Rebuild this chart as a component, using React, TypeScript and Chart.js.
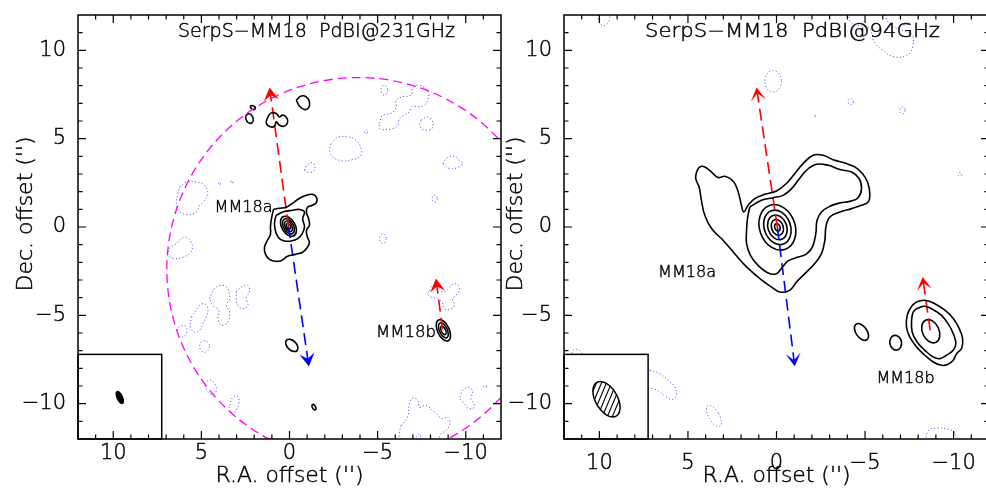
import React, { useEffect, useRef } from "react";
import { Chart, registerables } from "chart.js";

Chart.register(...registerables);

type P = [number, number];
// ellipse contour: centre x, centre y, semi-major, semi-minor, position angle (deg, east of north)
type E = [number, number, number, number, number];

// ---------------- axes ----------------
const AXIS_MIN = -12;
const AXIS_MAX = 12;
const MAJOR_TICKS = [-10, -5, 0, 5, 10];
const MAJOR_LABELS = ["−10", "−5", "0", "5", "10"];
const MINOR_TICKS = [-11, -9, -8, -7, -6, -4, -3, -2, -1, 1, 2, 3, 4, 6, 7, 8, 9, 11];
const X_TITLE = "R.A. offset ('')";
const Y_TITLE = "Dec. offset ('')";

// ---------------- panel 1 : 231 GHz ----------------
const TITLE_231 = "SerpS−MM18  PdBI@231GHz";
const BEAM_231: E = [9.63, -9.65, 0.41, 0.19, 25];
const PRIMARY_BEAM_231: E = [-3.9, -2.4, 10.86, 10.86, 0];
const INSET_231 = [12, 7.25, -12, -7.21];

const POS_231_A_OUTER: P[] = [[0.91, 1.0], [0.57, 1.06], [0.17, 1.12], [-0.17, 1.34], [-0.57, 1.63], [-0.96, 1.8], [-1.3, 1.85], [-1.53, 1.68], [-1.53, 1.4], [-1.3, 1.23], [-1.02, 1.12], [-0.96, 0.83], [-1.08, 0.49], [-1.13, 0.1], [-0.96, -0.19], [-1.02, -0.58], [-1.13, -0.87], [-1.02, -1.15], [-0.74, -1.43], [-0.34, -1.55], [0.11, -1.66], [0.45, -1.89], [0.79, -1.94], [1.13, -1.83], [1.36, -1.55], [1.42, -1.15], [1.25, -0.75], [1.08, -0.41], [1.08, 0.04], [1.02, 0.49]];
const POS_231_A_SECOND: P[] = [[0.75, 0.66], [0.38, 0.85], [-0.19, 0.95], [-0.57, 0.99], [-0.85, 0.85], [-0.75, 0.48], [-0.85, 0.0], [-0.72, -0.37], [-0.47, -0.66], [-0.1, -0.79], [0.28, -0.79], [0.57, -0.66], [0.75, -0.37], [0.85, 0.1], [0.81, 0.48]];
const POS_231_NORTH_S: P[] = [[1.23, 6.23], [1.04, 6.46], [0.75, 6.42], [0.57, 6.23], [0.41, 6.33], [0.19, 6.23], [0.1, 5.95], [0.28, 5.71], [0.57, 5.76], [0.75, 5.95], [0.85, 5.71], [1.09, 5.67], [1.32, 5.89]];
const POS_231_NORTH_DROP: P[] = [[-0.38, 7.18], [-0.66, 7.41], [-0.95, 7.37], [-1.13, 7.08], [-1.09, 6.76], [-0.85, 6.65], [-0.57, 6.84]];
const POS_231_ELL: E[] = [
  [0.06, 0.04, 0.62, 0.38, 30], [0.06, 0.04, 0.47, 0.28, 30], [0.06, 0.04, 0.32, 0.19, 30], [0.06, 0.04, 0.17, 0.1, 30],
  [-8.73, -5.85, 0.65, 0.33, 25], [-8.73, -5.85, 0.46, 0.22, 25], [-8.73, -5.85, 0.26, 0.12, 25],
  [2.27, 6.14, 0.28, 0.2, 20], [2.08, 6.76, 0.15, 0.1, 60], [-0.13, -6.7, 0.42, 0.26, 45], [-1.39, -10.2, 0.17, 0.09, 30],
];

const NEG_231_NE_CHAIN: P[] = [[-5.1, 5.86], [-5.29, 6.33], [-5.76, 6.42], [-6.05, 6.8], [-6.05, 7.18], [-6.42, 7.37], [-6.9, 7.46], [-6.99, 7.84], [-7.27, 8.03], [-7.65, 7.9], [-7.89, 7.56], [-7.84, 7.18], [-7.65, 6.9], [-7.27, 6.8], [-6.99, 6.84], [-6.8, 6.52], [-6.52, 6.33], [-6.23, 6.14], [-6.14, 5.76], [-5.85, 5.57], [-5.48, 5.52], [-5.1, 5.57]];
const NEG_231_NE_BLOB: P[] = [[-7.46, 6.05], [-7.84, 6.23], [-8.12, 5.95], [-8.08, 5.57], [-7.74, 5.48], [-7.4, 5.67]];
const NEG_231_BIG: P[] = [[-2.36, 4.72], [-2.74, 5.07], [-3.3, 5.1], [-3.78, 4.91], [-4.06, 4.44], [-4.02, 4.01], [-3.59, 3.82], [-3.02, 3.74], [-2.45, 3.97], [-2.27, 4.35]];
const NEG_231_SMALL_N: P[] = [[-0.85, 3.21], [-1.04, 3.55], [-1.32, 3.63], [-1.45, 3.4], [-1.32, 3.12], [-0.94, 3.12]];
const NEG_231_E_BLOB: P[] = [[-8.69, 3.59], [-8.97, 3.93], [-9.35, 4.01], [-9.63, 3.78], [-9.82, 3.59], [-9.54, 3.37], [-9.07, 3.31]];
const NEG_231_W_BLOB: P[] = [[6.23, 2.27], [5.85, 2.55], [5.29, 2.55], [4.82, 2.36], [4.63, 1.89], [4.82, 1.51], [5.1, 1.23], [5.29, 0.85], [5.76, 0.72], [6.23, 0.85], [6.42, 1.33], [6.33, 1.89]];
const NEG_231_W_BLOB2: P[] = [[6.91, -1.6], [6.8, -1.21], [6.42, -0.94], [6.14, -0.66], [5.89, -0.57], [5.61, -0.81], [5.5, -1.21], [5.67, -1.49], [6.06, -1.72], [6.52, -1.79]];
const NEG_231_SW_1: P[] = [[6.39, -5.85], [6.23, -5.63], [5.95, -5.57], [5.82, -5.81], [5.93, -6.14], [6.23, -6.23]];
const NEG_231_SW_2: P[] = [[5.57, -5.1], [5.29, -4.72], [5.1, -4.44], [4.82, -4.34], [4.63, -4.62], [4.72, -5.1], [4.91, -5.47], [5.1, -5.85], [5.38, -5.95], [5.63, -5.67]];
const NEG_231_SW_3: P[] = [[4.53, -4.06], [4.25, -3.49], [3.87, -3.3], [3.5, -3.49], [3.4, -4.06], [3.59, -4.44], [3.4, -4.82], [3.5, -5.38], [3.87, -5.57], [4.06, -5.19], [4.01, -4.72], [4.35, -4.44]];
const NEG_231_SW_4: P[] = [[3.02, -3.68], [2.74, -3.4], [2.36, -3.3], [2.27, -3.68], [2.45, -3.97], [2.36, -4.44], [2.65, -4.62], [2.93, -4.44], [3.02, -4.06]];
const NEG_231_SW_5: P[] = [[4.82, -8.87], [4.53, -8.65], [4.25, -8.87], [4.15, -9.25], [4.34, -9.48], [4.63, -9.35]];
const NEG_231_SW_6: P[] = [[3.4, -10.1], [3.21, -9.63], [2.93, -9.59], [2.87, -10.01], [2.99, -10.29], [3.21, -10.54], [3.44, -10.39]];
const NEG_231_SE_BIG: P[] = [[-6.33, -11.24], [-6.7, -10.76], [-6.8, -10.01], [-6.99, -9.67], [-7.27, -9.82], [-7.37, -10.2], [-7.74, -10.1], [-8.22, -10.48], [-8.69, -10.86], [-8.97, -10.76], [-9.1, -11.14], [-8.88, -11.52], [-8.59, -11.71], [-8.4, -12.05], [-7.55, -12.08], [-7.37, -11.71], [-7.08, -11.99], [-6.42, -12.08], [-6.23, -11.71]];
const NEG_231_SE_2: P[] = [[-9.73, -9.44], [-9.92, -9.16], [-10.2, -9.07], [-10.39, -9.35], [-10.29, -9.72], [-10.48, -10.01], [-10.39, -10.29], [-10.1, -10.2], [-9.86, -9.92], [-9.67, -9.72]];
const NEG_231_B_RED: P[] = [[-7.93, -3.59], [-8.12, -3.3], [-8.4, -3.4], [-8.69, -3.68], [-8.97, -3.55], [-9.25, -3.25], [-9.54, -3.25], [-9.63, -3.59], [-9.44, -3.87], [-9.25, -4.06], [-9.35, -4.44], [-9.07, -4.68], [-8.78, -4.62], [-8.65, -4.25], [-8.4, -4.06], [-8.03, -3.97], [-7.84, -3.77]];
const NEG_231_ELL: E[] = [
  [-5.38, 7.75, 0.28, 0.19, 0], [-4.35, 5.38, 0.1, 0.08, 0], [-8.24, 1.61, 0.2, 0.15, 0], [-5.29, -0.66, 0.28, 0.19, 0],
  [3.97, 2.46, 0.08, 0.06, 0], [3.27, 2.55, 0.08, 0.06, 0], [4.82, -6.76, 0.33, 0.28, 0], [-11.1, -9.03, 0.08, 0.08, 0],
];

const RED_231_A: P[] = [[0.06, 0.04], [1.13, 7.9]];
const BLUE_231_A: P[] = [[0.06, 0.04], [-1.1, -7.9]];
const RED_231_B: P[] = [[-8.68, -5.8], [-8.31, -2.92]];

// ---------------- panel 2 : 94 GHz ----------------
const TITLE_94 = "SerpS−MM18  PdBI@94GHz";
const BEAM_94: E = [9.6, -9.75, 1.1, 0.62, 30];
const INSET_94 = [12, 7.25, -12, -7.21];

const POS_94_A_OUTER: P[] = [[4.52, 3.11], [4.33, 3.4], [4.05, 3.4], [3.67, 3.11], [3.3, 2.8], [2.92, 2.87], [2.54, 2.68], [2.3, 2.36], [2.11, 1.79], [1.98, 1.23], [1.85, 0.85], [1.6, 1.23], [1.23, 1.61], [0.66, 1.85], [0.0, 2.04], [-0.56, 2.46], [-1.03, 3.02], [-1.5, 3.59], [-2.07, 4.06], [-2.63, 4.06], [-3.2, 3.81], [-3.86, 3.62], [-4.42, 3.4], [-4.86, 3.02], [-5.14, 2.55], [-5.27, 1.89], [-5.18, 1.42], [-4.8, 1.23], [-4.24, 1.04], [-3.58, 0.85], [-3.01, 0.57], [-2.79, 0.0], [-2.73, -0.75], [-2.54, -1.51], [-2.16, -2.07], [-1.6, -2.64], [-1.13, -3.11], [-0.75, -3.58], [-0.19, -3.68], [0.28, -3.4], [0.94, -2.92], [1.69, -2.26], [2.36, -1.51], [3.02, -0.75], [3.67, -0.09], [4.05, 0.66], [4.24, 1.51], [4.37, 2.26], [4.56, 2.74]];
const POS_94_A_SECOND: P[] = [[1.51, 1.13], [0.85, 1.51], [0.19, 1.66], [-0.37, 1.79], [-0.85, 2.17], [-1.22, 2.64], [-1.69, 3.21], [-2.26, 3.55], [-2.92, 3.49], [-3.58, 3.25], [-4.24, 3.11], [-4.67, 2.74], [-4.8, 2.17], [-4.61, 1.66], [-4.14, 1.45], [-3.58, 1.36], [-3.01, 1.17], [-2.54, 0.85], [-2.29, 0.38], [-2.22, -0.37], [-2.03, -1.13], [-1.66, -1.55], [-1.13, -1.73], [-0.66, -1.92], [-0.34, -2.26], [0.0, -2.64], [0.47, -2.6], [1.04, -2.17], [1.47, -1.6], [1.69, -0.94], [1.69, -0.19], [1.64, 0.48]];
const POS_94_B_OUTER: P[] = [[-7.91, -4.24], [-8.38, -4.15], [-8.94, -4.34], [-9.51, -4.71], [-9.98, -5.18], [-10.32, -5.75], [-10.51, -6.32], [-10.45, -6.88], [-10.17, -7.17], [-9.98, -7.54], [-9.69, -7.77], [-9.32, -7.83], [-8.85, -7.64], [-8.38, -7.26], [-7.91, -6.79], [-7.53, -6.23], [-7.34, -5.66], [-7.38, -5.0], [-7.63, -4.49]];
const POS_94_B_SECOND: P[] = [[-7.91, -4.62], [-8.38, -4.49], [-8.85, -4.68], [-9.32, -5.0], [-9.69, -5.47], [-9.98, -6.03], [-10.13, -6.6], [-9.98, -6.98], [-9.6, -7.26], [-9.23, -7.45], [-8.85, -7.36], [-8.38, -6.98], [-7.94, -6.51], [-7.66, -5.94], [-7.63, -5.28], [-7.72, -4.81]];
const POS_94_ELL: E[] = [
  [-0.05, -0.02, 1.32, 1.0, 20], [-0.05, -0.02, 1.0, 0.74, 20], [-0.05, -0.02, 0.72, 0.53, 20], [-0.05, -0.02, 0.46, 0.33, 20], [-0.05, -0.02, 0.22, 0.15, 20],
  [-8.71, -5.9, 0.69, 0.47, 25], [-6.73, -6.55, 0.42, 0.33, 10], [-4.8, -5.94, 0.54, 0.31, 35],
];

const NEG_94_NE: P[] = [[-4.05, 12.1], [-4.2, 11.6], [-4.7, 11.4], [-5.2, 11.3], [-5.4, 10.9], [-5.5, 10.5], [-6.0, 10.0], [-6.7, 9.62], [-7.4, 9.75], [-7.7, 10.2], [-7.65, 10.9], [-7.2, 11.1], [-6.7, 11.3], [-6.3, 11.6], [-6.0, 12.1]];
const NEG_94_SW: P[] = [[7.15, -8.11], [6.59, -8.3], [6.12, -8.68], [5.75, -9.05], [5.65, -9.47], [5.88, -9.77], [6.21, -9.62], [6.59, -9.34], [6.97, -9.15], [7.6, -9.1], [8.0, -8.6], [7.6, -8.1]];
const NEG_94_W_EDGE: P[] = [[11.6, -7.35], [11.45, -6.95], [11.1, -7.0], [11.0, -7.4]];
const NEG_94_SE: P[] = [[-8.4, -12.1], [-8.6, -11.5], [-9.1, -11.38], [-9.6, -11.42], [-10.0, -11.6], [-10.2, -12.1]];
const NEG_94_ELL: E[] = [
  [0.19, 8.25, 0.61, 0.47, 0], [-4.19, 7.1, 0.18, 0.15, 0], [-7.11, 6.6, 0.2, 0.15, 0], [-2.16, 6.27, 0.05, 0.05, 0],
  [-10.36, 2.98, 0.1, 0.1, 0], [9.75, 11.9, 0.5, 0.33, 0], [3.53, -10.7, 0.68, 0.3, 30],
];

const RED_94_A: P[] = [[-0.05, -0.02], [1.13, 7.9]];
const BLUE_94_A: P[] = [[-0.05, -0.02], [-1.03, -7.88]];
const RED_94_B: P[] = [[-8.68, -5.85], [-8.25, -2.83]];

// ---------------- styling ----------------
const FAMILY = "'DejaVu Sans', 'Liberation Sans', sans-serif";
const WEIGHT = "200";
const BLACK = "#000000";
const NEG_BLUE = "#5858ff";
const RED = "#ff0000";
const BLUE = "#0000ff";
const MAGENTA = "#ff00ff";

interface Label { text: string; x: number; y: number; w: number }
interface Panel {
  title: string; titleCx: number; titleW: number;
  pos: P[][]; neg: P[][]; posEll: E[]; negEll: E[];
  arrows: { pts: P[]; color: string }[];
  beam: E; hatched: boolean; inset: number[]; pb: E | null;
  labels: Label[]; xLabelDy: number; yTitleDx: number; notch: number;
}

const PANEL_231: Panel = {
  title: TITLE_231, titleCx: 238.5, titleW: 277,
  pos: [POS_231_A_OUTER, POS_231_A_SECOND, POS_231_NORTH_S, POS_231_NORTH_DROP],
  neg: [NEG_231_NE_CHAIN, NEG_231_NE_BLOB, NEG_231_BIG, NEG_231_SMALL_N, NEG_231_E_BLOB, NEG_231_W_BLOB, NEG_231_W_BLOB2, NEG_231_SW_1, NEG_231_SW_2, NEG_231_SW_3, NEG_231_SW_4, NEG_231_SW_5, NEG_231_SW_6, NEG_231_SE_BIG, NEG_231_SE_2, NEG_231_B_RED],
  posEll: POS_231_ELL, negEll: NEG_231_ELL,
  arrows: [{ pts: RED_231_A, color: RED }, { pts: BLUE_231_A, color: BLUE }, { pts: RED_231_B, color: RED }],
  beam: BEAM_231, hatched: false, inset: INSET_231, pb: PRIMARY_BEAM_231,
  labels: [{ text: "MM18a", x: 4.25, y: 1.1, w: 58 }, { text: "MM18b", x: -4.91, y: -6.0, w: 60 }],
  xLabelDy: 15, yTitleDx: -51, notch: 5,
};

const PANEL_94: Panel = {
  title: TITLE_94, titleCx: 228.5, titleW: 295,
  pos: [POS_94_A_OUTER, POS_94_A_SECOND, POS_94_B_OUTER, POS_94_B_SECOND],
  neg: [NEG_94_NE, NEG_94_SW, NEG_94_W_EDGE, NEG_94_SE],
  posEll: POS_94_ELL, negEll: NEG_94_ELL,
  arrows: [{ pts: RED_94_A, color: RED }, { pts: BLUE_94_A, color: BLUE }, { pts: RED_94_B, color: RED }],
  beam: BEAM_94, hatched: true, inset: INSET_94, pb: null,
  labels: [{ text: "MM18a", x: 6.69, y: -2.6, w: 58 }, { text: "MM18b", x: -5.65, y: -8.58, w: 58 }],
  xLabelDy: 25, yTitleDx: -47, notch: 7,
};

// ---------------- drawing helpers ----------------
function text(ctx: CanvasRenderingContext2D, s: string, x: number, y: number, size: number, align: string, w?: number, rot?: boolean) {
  ctx.save();
  ctx.font = `${WEIGHT} ${size}px ${FAMILY}`;
  ctx.fillStyle = BLACK;
  ctx.strokeStyle = BLACK;
  ctx.lineWidth = 0.45;
  ctx.textBaseline = "middle";
  ctx.textAlign = "left";
  ctx.translate(x, y);
  if (rot) ctx.rotate(-Math.PI / 2);
  const m = ctx.measureText(s).width;
  const k = w ? w / m : 1;
  ctx.scale(k, 1);
  const off = align === "left" ? 0 : align === "right" ? -m : -m / 2;
  ctx.fillText(s, off, 0);
  ctx.strokeText(s, off, 0);
  ctx.restore();
}

function ellipsePath(chart: any, e: E) {
  const xs = chart.scales.x, ys = chart.scales.y;
  const cx = xs.getPixelForValue(e[0]);
  const cy = ys.getPixelForValue(e[1]);
  const kx = Math.abs(xs.getPixelForValue(1) - xs.getPixelForValue(0));
  const ky = Math.abs(ys.getPixelForValue(1) - ys.getPixelForValue(0));
  const ctx = chart.ctx as CanvasRenderingContext2D;
  ctx.beginPath();
  ctx.ellipse(cx, cy, Math.max(0.5, e[3] * kx), Math.max(0.5, e[2] * ky), (-e[4] * Math.PI) / 180, 0, Math.PI * 2);
  return { cx, cy, rx: e[3] * kx, ry: e[2] * ky };
}

function clipArea(chart: any) {
  const a = chart.chartArea;
  const ctx = chart.ctx as CanvasRenderingContext2D;
  ctx.beginPath();
  ctx.rect(a.left, a.top, a.right - a.left, a.bottom - a.top);
  ctx.clip();
}

const panelPlugin = {
  id: "panel",
  beforeDatasetsDraw(chart: any) {
    const p: Panel = chart.options.plugins.panel;
    const ctx = chart.ctx as CanvasRenderingContext2D;
    ctx.save();
    clipArea(chart);
    ctx.setLineDash([1.2, 2.2]);
    ctx.strokeStyle = NEG_BLUE;
    ctx.lineWidth = 1;
    p.negEll.forEach((e) => { ellipsePath(chart, e); ctx.stroke(); });
    ctx.setLineDash([]);
    ctx.strokeStyle = BLACK;
    ctx.lineWidth = 1.6;
    p.posEll.forEach((e) => { ellipsePath(chart, e); ctx.stroke(); });
    ctx.restore();
  },
  afterDatasetsDraw(chart: any) {
    const p: Panel = chart.options.plugins.panel;
    const ctx = chart.ctx as CanvasRenderingContext2D;
    const xs = chart.scales.x, ys = chart.scales.y;
    const a = chart.chartArea;

    ctx.save();
    clipArea(chart);
    // primary beam
    if (p.pb) {
      ctx.setLineDash([9, 5]);
      ctx.strokeStyle = MAGENTA;
      ctx.lineWidth = 1.3;
      ellipsePath(chart, p.pb);
      ctx.stroke();
      ctx.setLineDash([]);
    }
    // arrow heads
    p.arrows.forEach(({ pts, color }) => {
      const n = pts.length;
      const x1 = xs.getPixelForValue(pts[n - 2][0]), y1 = ys.getPixelForValue(pts[n - 2][1]);
      const x2 = xs.getPixelForValue(pts[n - 1][0]), y2 = ys.getPixelForValue(pts[n - 1][1]);
      const ang = Math.atan2(y2 - y1, x2 - x1);
      ctx.save();
      ctx.translate(x2, y2);
      ctx.rotate(ang);
      ctx.beginPath();
      ctx.moveTo(0, 0);
      ctx.lineTo(-13, 7.5);
      ctx.lineTo(-13 + p.notch, 0);
      ctx.lineTo(-13, -7.5);
      ctx.closePath();
      ctx.fillStyle = color;
      ctx.fill();
      ctx.restore();
    });
    ctx.restore();

    // inset box with beam
    const bx1 = xs.getPixelForValue(p.inset[0]), bx2 = xs.getPixelForValue(p.inset[1]);
    const by1 = ys.getPixelForValue(p.inset[2]), by2 = ys.getPixelForValue(p.inset[3]);
    ctx.save();
    ctx.fillStyle = "#ffffff";
    ctx.fillRect(Math.min(bx1, bx2), Math.min(by1, by2), Math.abs(bx2 - bx1), Math.abs(by2 - by1));
    ctx.strokeStyle = BLACK;
    ctx.lineWidth = 1.5;
    ctx.strokeRect(Math.min(bx1, bx2), Math.min(by1, by2), Math.abs(bx2 - bx1), Math.abs(by2 - by1));
    const g = ellipsePath(chart, p.beam);
    if (p.hatched) {
      ctx.save();
      ctx.clip();
      ctx.lineWidth = 1.1;
      ctx.beginPath();
      const R = Math.max(g.rx, g.ry) + 4;
      for (let sx = -2 * R; sx <= 2 * R; sx += 5) {
        ctx.moveTo(g.cx + sx - R * 0.42, g.cy + R);
        ctx.lineTo(g.cx + sx + R * 0.42, g.cy - R);
      }
      ctx.stroke();
      ctx.restore();
      ellipsePath(chart, p.beam);
      ctx.lineWidth = 1.5;
      ctx.stroke();
    } else {
      ctx.fillStyle = BLACK;
      ctx.fill();
    }
    ctx.restore();

    // frame and ticks
    ctx.save();
    ctx.strokeStyle = BLACK;
    ctx.lineWidth = 1.5;
    ctx.strokeRect(a.left, a.top, a.right - a.left, a.bottom - a.top);
    ctx.lineWidth = 1.2;
    ctx.beginPath();
    const tick = (v: number, len: number) => {
      const X = xs.getPixelForValue(v), Y = ys.getPixelForValue(v);
      ctx.moveTo(X, a.bottom); ctx.lineTo(X, a.bottom - len);
      ctx.moveTo(X, a.top); ctx.lineTo(X, a.top + len);
      ctx.moveTo(a.left, Y); ctx.lineTo(a.left + len, Y);
      ctx.moveTo(a.right, Y); ctx.lineTo(a.right - len, Y);
    };
    MAJOR_TICKS.forEach((v) => tick(v, 8));
    MINOR_TICKS.forEach((v) => tick(v, 4.5));
    ctx.stroke();
    ctx.restore();

    // tick labels
    MAJOR_TICKS.forEach((v, i) => {
      text(ctx, MAJOR_LABELS[i], xs.getPixelForValue(v), a.bottom + p.xLabelDy, 21, "center");
      text(ctx, MAJOR_LABELS[i], a.left - 12, ys.getPixelForValue(v), 21, "right");
    });
    // axis titles
    text(ctx, X_TITLE, xs.getPixelForValue(0), 477, 21, "center", 148);
    text(ctx, Y_TITLE, a.left + p.yTitleDx, 214, 21, "center", 155, true);
    // panel title
    text(ctx, p.title, a.left + p.titleCx, 32, 19, "center", p.titleW);
    // source labels
    p.labels.forEach((l) => text(ctx, l.text, xs.getPixelForValue(l.x), ys.getPixelForValue(l.y), 16, "left", l.w));
  },
};

function pts(list: P[], close: boolean) {
  const arr = close ? [...list, list[0]] : list;
  return arr.map(([x, y]) => ({ x, y }));
}

function buildConfig(p: Panel, padding: any): any {
  const datasets: any[] = [];
  p.neg.forEach((c) => datasets.push({ data: pts(c, true), showLine: true, borderColor: NEG_BLUE, borderWidth: 1, borderDash: [1.2, 2.2], tension: 0.4, pointRadius: 0, fill: false }));
  p.pos.forEach((c) => datasets.push({ data: pts(c, true), showLine: true, borderColor: BLACK, borderWidth: 1.6, tension: 0.4, pointRadius: 0, fill: false }));
  p.arrows.forEach((ar) => datasets.push({ data: pts(ar.pts, false), showLine: true, borderColor: ar.color, borderWidth: 1.6, borderDash: [12, 6], tension: 0, pointRadius: 0, fill: false }));
  return {
    type: "scatter",
    data: { datasets },
    options: {
      animation: false,
      responsive: false,
      maintainAspectRatio: false,
      devicePixelRatio: 1,
      events: [],
      layout: { padding },
      scales: {
        x: { type: "linear", min: AXIS_MIN, max: AXIS_MAX, reverse: true, display: false },
        y: { type: "linear", min: AXIS_MIN, max: AXIS_MAX, display: false },
      },
      plugins: { legend: { display: false }, tooltip: { enabled: false }, panel: p },
    },
    plugins: [panelPlugin],
  };
}

export default function App() {
  const c1 = useRef<HTMLCanvasElement>(null);
  const c2 = useRef<HTMLCanvasElement>(null);
  useEffect(() => {
    const ch1 = new Chart(c1.current!, buildConfig(PANEL_231, { left: 78, top: 15, right: 485, bottom: 52 }));
    const ch2 = new Chart(c2.current!, buildConfig(PANEL_94, { left: 564, top: 15, right: 3, bottom: 52 }));
    return () => { ch1.destroy(); ch2.destroy(); };
  }, []);
  return (
    <div style={{ position: "fixed", left: 0, top: 0, width: 986, height: 491, overflow: "hidden", background: "#ffffff" }}>
      <canvas ref={c1} width={986} height={491} style={{ position: "absolute", left: 0, top: 0 }} />
      <canvas ref={c2} width={992} height={491} style={{ position: "absolute", left: 0, top: 0 }} />
    </div>
  );
}
